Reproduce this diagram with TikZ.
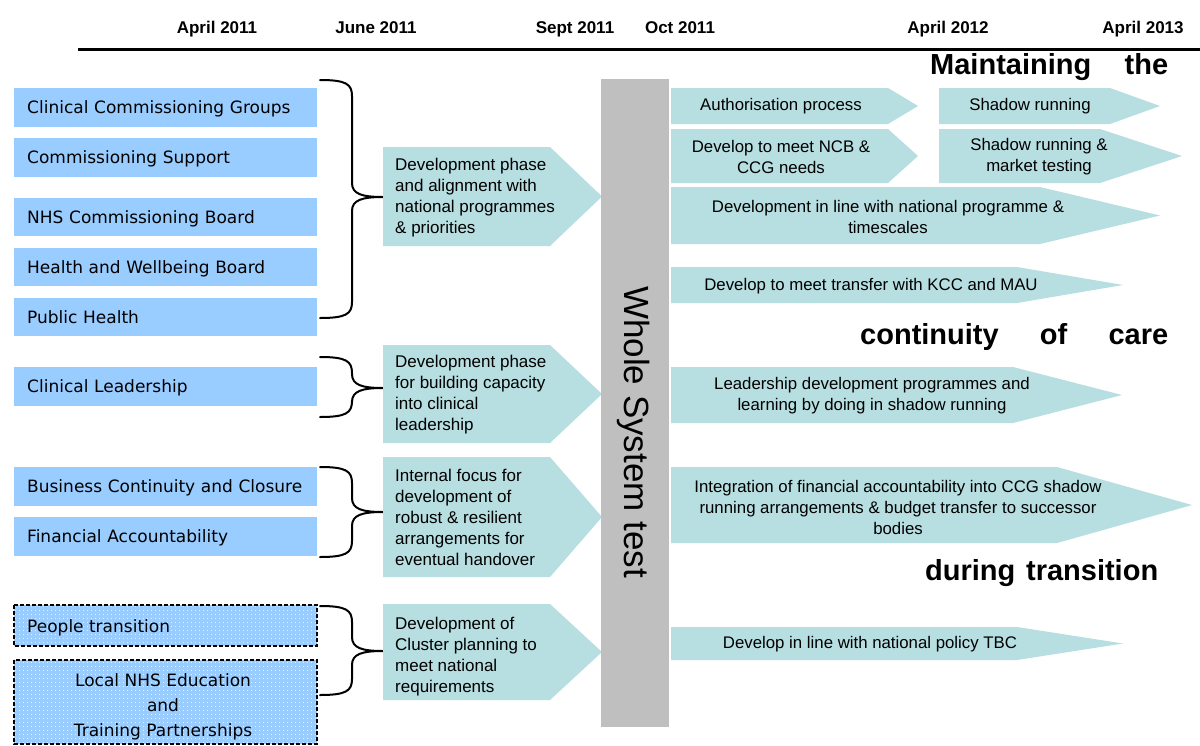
\documentclass[tikz,border=0pt]{standalone}
\usepackage{fontspec}
\setmainfont{Liberation Sans}
\newfontfamily\dvsans{DejaVu Sans}
\usetikzlibrary{patterns.meta}
\definecolor{boxblue}{HTML}{99CCFF}
\definecolor{arrteal}{HTML}{B7DEE1}
\definecolor{bargray}{HTML}{BFBFBF}
\newcommand\chevshape[5]{\fill[arrteal] (#1,#2) -- (#3,#2) -- (#4,{(#2+#5)/2}) -- (#3,#5) -- (#1,#5) -- cycle;}
\newcommand\bracepath[3]{\draw[bracestyle] (320,#1) .. controls (346,#1) and (352,#1+4) .. (352,#1+16) -- (352,#2-14) .. controls (352,#2-3) and (362,#2) .. (383,#2) .. controls (362,#2) and (352,#2+3) .. (352,#2+14) -- (352,#3-16) .. controls (352,#3-4) and (346,#3) .. (320,#3);}
\begin{document}
\begin{tikzpicture}[x=1pt,y=-1pt,
  datelabel/.style={font=\bfseries\fontsize{17}{19}\selectfont, inner sep=0pt, anchor=base},
  bigword/.style={font=\bfseries\fontsize{29}{32}\selectfont, inner sep=0pt, anchor=west},
  lbox/.style={fill=boxblue, anchor=west, text width=277pt, inner xsep=13pt, inner ysep=0pt, align=left, text height=12.5pt, text depth=0pt, font=\dvsans\fontsize{17}{25}\selectfont},
  midtext/.style={anchor=west, inner sep=0pt, align=left, font=\fontsize{17}{21}\selectfont},
  righttext/.style={inner sep=0pt, align=center, font=\fontsize{16.8}{21}\selectfont},
  bracestyle/.style={line width=2pt, line cap=round, line join=round},
  dashbox/.style={draw=black, line width=1.2pt, dash pattern=on 4pt off 2pt}
]
\useasboundingbox (0,0) rectangle (1200,745);
\fill[white] (0,0) rectangle (1200,745);

% header
\node[datelabel] (d1) at (217,33) {April 2011};
\node[datelabel] (d2) at (376,33) {June 2011};
\node[datelabel] (d3) at (575,33) {Sept 2011};
\node[datelabel] (d4) at (680,33) {Oct 2011};
\node[datelabel] (d5) at (948,33) {April 2012};
\node[datelabel] (d6) at (1143,33) {April 2013};
\draw[line width=3pt] (78,49) -- (1200,49);

% big words
\node[bigword] (w1) at (930,67) {\makebox[238pt][s]{Maintaining the}};
\node[bigword] (w2) at (860,337) {\makebox[308pt][s]{continuity of care}};
\node[bigword] (w3) at (925,573) {\makebox[233pt][s]{during transition}};

% left boxes
\node[lbox, minimum height=39pt] (ccg) at (14,107.5) {Clinical Commissioning Groups};
\node[lbox, minimum height=39pt] (cs) at (14,157.5) {Commissioning Support};
\node[lbox, minimum height=38pt] (ncb) at (14,217) {NHS Commissioning Board};
\node[lbox, minimum height=38pt] (hwb) at (14,267) {Health and Wellbeing Board};
\node[lbox, minimum height=38pt] (ph) at (14,317) {Public Health};
\node[lbox, minimum height=39pt] (cl) at (14,386.5) {Clinical Leadership};
\node[lbox, minimum height=39pt] (bcc) at (14,486.5) {Business Continuity and Closure};
\node[lbox, minimum height=39pt] (fa) at (14,536.5) {Financial Accountability};

\fill[boxblue] (14,605) rectangle (317,646);
\fill[pattern={Dots[distance=4pt,radius=0.6pt]}, pattern color=white] (14,605) rectangle (317,646);
\draw[dashbox] (14,605) rectangle (317,646);
\node[anchor=west, inner sep=0pt, font=\dvsans\fontsize{17}{25}\selectfont] (pt) at (27,628) {People transition};

\fill[boxblue] (14,660) rectangle (317,744);
\fill[pattern={Dots[distance=4pt,radius=0.6pt]}, pattern color=white] (14,660) rectangle (317,744);
\draw[dashbox] (14,660) rectangle (317,744);
\node[inner sep=0pt, align=center, font=\dvsans\fontsize{17}{25}\selectfont] (lnhs) at (163,707) {Local NHS Education\\and\\Training Partnerships};

% braces
\bracepath{80}{197}{318}
\bracepath{357}{388}{417}
\bracepath{467}{512}{557}
\bracepath{606}{651}{695}

% middle arrows
\chevshape{383}{147}{550}{602}{246}
\chevshape{383}{345}{550}{602}{443}
\chevshape{383}{457}{550}{602}{577}
\chevshape{383}{604}{550}{602}{700}
\node[midtext] (m1) at (395,198) {Development phase\\and alignment with\\national programmes\\\& priorities};
\node[midtext] (m2) at (395,395) {Development phase\\for building capacity\\into clinical\\leadership};
\node[midtext] (m3) at (395,517) {Internal focus for\\development of\\robust \& resilient\\arrangements for\\eventual handover};
\node[midtext] (m4) at (395,657) {Development of\\Cluster planning to\\meet national\\requirements};

% gray bar
\fill[bargray] (601,79) rectangle (669,727);
\node[rotate=-90, inner sep=0pt, font=\fontsize{35}{40}\selectfont] (wst) at (634,432) {Whole System test};

% right arrows
\chevshape{671}{88}{888}{918}{124}
\chevshape{939}{88}{1110}{1160}{124}
\chevshape{671}{129}{888}{918}{183}
\chevshape{939}{129}{1100}{1182}{183}
\chevshape{671}{187}{1040}{1160}{244}
\chevshape{671}{267}{1017}{1123}{303}
\chevshape{671}{367}{1013}{1122}{423}
\chevshape{671}{467}{1057}{1192}{543}
\chevshape{671}{627}{1017}{1123}{660}
\node[righttext] (r1) at (781,106) {Authorisation process};
\node[righttext] (r2) at (1030,106) {Shadow running};
\node[righttext] (r3) at (781,157) {Develop to meet NCB \&\\CCG needs};
\node[righttext] (r4) at (1039,157) {Shadow running \&\\market testing};
\node[righttext] (r5) at (888,217) {Development in line with national programme \&\\timescales};
\node[righttext] (r6) at (871,286) {Develop to meet transfer with KCC and MAU};
\node[righttext] (r7) at (872,396) {Leadership development programmes and\\learning by doing in shadow running};
\node[righttext] (r8) at (898,507) {Integration of financial accountability into CCG shadow\\running arrangements \& budget transfer to successor\\bodies};
\node[righttext] (r9) at (870,644) {Develop in line with national policy TBC};
\end{tikzpicture}
\end{document}
